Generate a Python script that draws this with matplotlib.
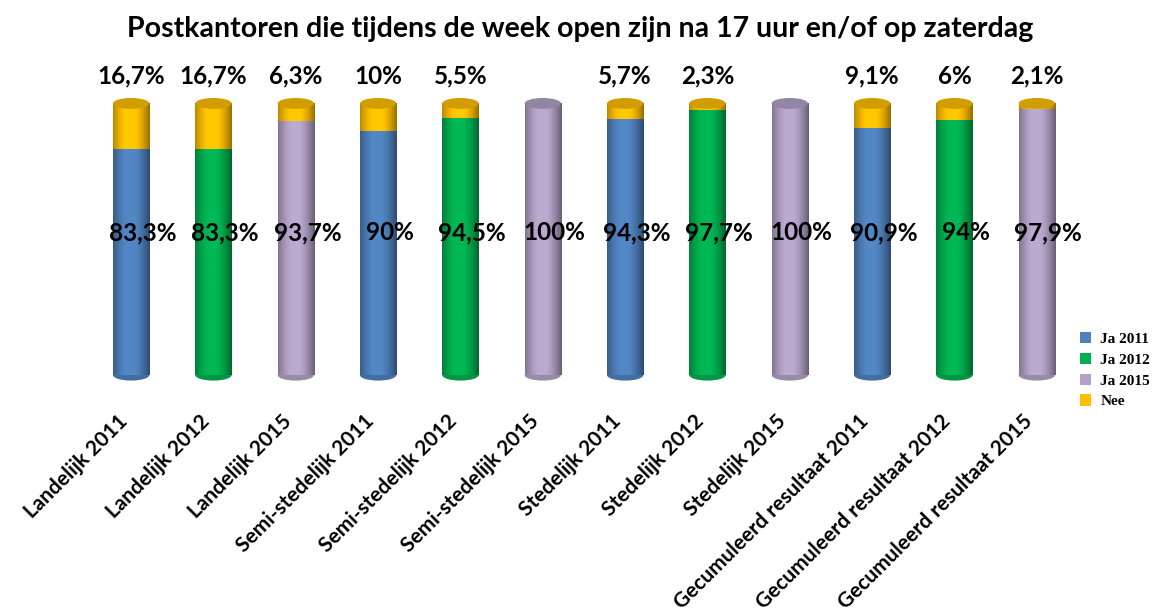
import matplotlib
matplotlib.use("Agg")
import matplotlib.pyplot as plt
import matplotlib.colors as mcolors
import matplotlib.transforms as mtransforms
import numpy as np
from matplotlib.patches import Ellipse, Rectangle, Patch

categories = [
    "Landelijk 2011", "Landelijk 2012", "Landelijk 2015",
    "Semi-stedelijk 2011", "Semi-stedelijk 2012", "Semi-stedelijk 2015",
    "Stedelijk 2011", "Stedelijk 2012", "Stedelijk 2015",
    "Gecumuleerd resultaat 2011", "Gecumuleerd resultaat 2012", "Gecumuleerd resultaat 2015",
]
ja_values = [83.3, 83.3, 93.7, 90, 94.5, 100, 94.3, 97.7, 100, 90.9, 94, 97.9]
nee_values = [16.7, 16.7, 6.3, 10, 5.5, 0, 5.7, 2.3, 0, 9.1, 6, 2.1]
ja_labels = ["83,3%", "83,3%", "93,7%", "90%", "94,5%", "100%", "94,3%", "97,7%", "100%", "90,9%", "94%", "97,9%"]
nee_labels = ["16,7%", "16,7%", "6,3%", "10%", "5,5%", "", "5,7%", "2,3%", "", "9,1%", "6%", "2,1%"]
series_names = ["Ja 2011", "Ja 2012", "Ja 2015", "Nee"]
series_colors = ["#4F81BD", "#00B050", "#B3A2C7", "#FFC000"]

BAR_W = 0.44
CAP_H = 4.0
FONT = "Lato"


def shade(color, f):
    r, g, b = mcolors.to_rgb(color)
    return (r * f, g * f, b * f)


def cylinder(ax, x, bottom, height, color, top_cap=True):
    # horizontal gradient gives a rounded look
    t = np.linspace(-1, 1, 64)
    light = 0.62 + 0.45 * np.cos(t * np.pi / 2 * 0.95) - 0.07 * t
    light = np.clip(light, 0, 1.05)
    base = np.array(mcolors.to_rgb(color))
    img = np.clip(base[None, :] * light[:, None], 0, 1)[None, :, :]
    left = x - BAR_W / 2
    rect = Rectangle((left, bottom), BAR_W, height, facecolor="none", edgecolor="none")
    ax.add_patch(rect)
    im = ax.imshow(img, extent=(left, left + BAR_W, bottom, bottom + height),
                   aspect="auto", zorder=2, interpolation="bilinear")
    im.set_clip_path(rect)
    bot = Ellipse((x, bottom), BAR_W, CAP_H, facecolor=shade(color, 0.85),
                  edgecolor="none", zorder=1.9, clip_on=False)
    ax.add_patch(bot)
    if top_cap:
        cap = Ellipse((x, bottom + height), BAR_W, CAP_H, facecolor=shade(color, 0.82),
                      edgecolor="none", zorder=3, clip_on=False)
        ax.add_patch(cap)


fig = plt.figure(figsize=(11.61, 6.12), dpi=100)
ax = fig.add_axes([0.0775, 0.387, 0.851, 0.444])

x = np.arange(len(categories))
ja_colors = [series_colors[i % 3] for i in range(len(categories))]
for i in x:
    cylinder(ax, i, 0, ja_values[i], ja_colors[i], top_cap=nee_values[i] == 0)
    if nee_values[i] > 0:
        cylinder(ax, i, ja_values[i], nee_values[i], series_colors[3], top_cap=True)
        # lower edge of the yellow part, curved onto the bar below
        edge = Ellipse((i, ja_values[i]), BAR_W, CAP_H, facecolor=ja_colors[i],
                       edgecolor="none", zorder=1.95)
        ax.add_patch(edge)

for i in x:
    ax.text(i + 0.14, 52.5, ja_labels[i], ha="center", va="center",
            fontsize=17.5, fontweight="bold", family=FONT, zorder=5)
    if nee_labels[i]:
        ax.text(i, 110, nee_labels[i], ha="center", va="center",
                fontsize=17.5, fontweight="bold", family=FONT, zorder=5, clip_on=False)

ax.set_xlim(-0.5, len(categories) - 0.5)
ax.set_ylim(0, 100)
ax.set_xticks(x)
ax.set_xticklabels(categories, rotation=45, ha="right", rotation_mode="anchor",
                   fontsize=15, fontweight="bold", family=FONT)
ax.tick_params(axis="x", length=0, pad=26)
shift = mtransforms.ScaledTranslation(-14 / 100, 0, fig.dpi_scale_trans)
for lbl in ax.get_xticklabels():
    lbl.set_transform(lbl.get_transform() + shift)
ax.set_yticks([])
for s in ax.spines.values():
    s.set_visible(False)

fig.text(0.5, 0.953, "Postkantoren die tijdens de week open zijn na 17 uur en/of op zaterdag",
         ha="center", va="center", fontsize=20.5, fontweight="bold", family=FONT)

handles = [Patch(facecolor=c, edgecolor="none") for c in series_colors]
fig.legend(handles, series_names, loc="center left", bbox_to_anchor=(0.922, 0.395),
           frameon=False, handlelength=0.75, handleheight=0.75, handletextpad=0.6,
           labelspacing=0.45, borderpad=0.1,
           prop={"family": "Liberation Serif", "weight": "bold", "size": 11})

fig.savefig("out.png", dpi=100)
